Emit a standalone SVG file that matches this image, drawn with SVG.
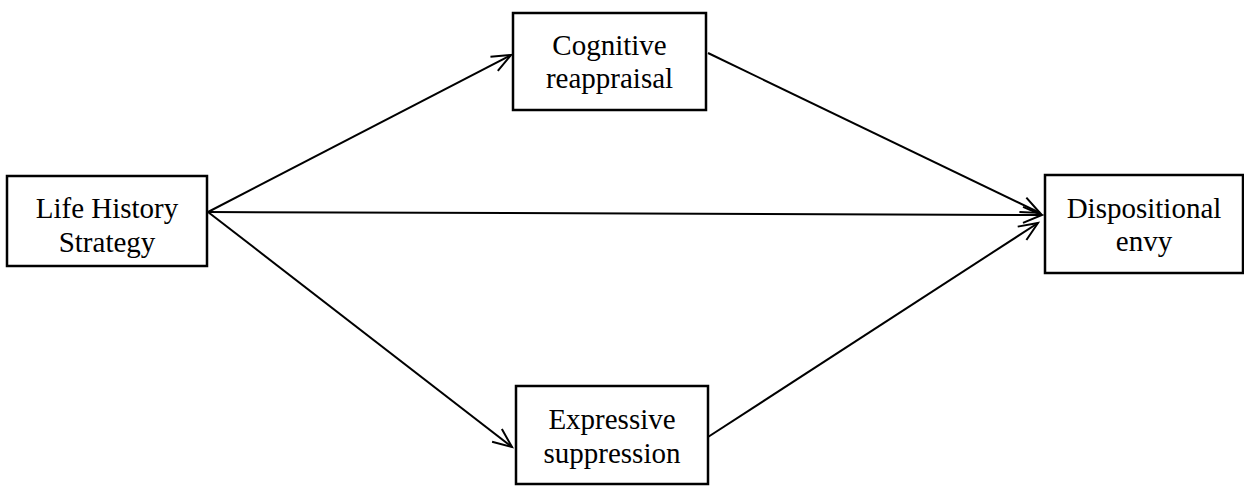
<svg xmlns="http://www.w3.org/2000/svg" width="1244" height="486" viewBox="0 0 1244 486">
<style>
.box{fill:#fff;stroke:#000;stroke-width:2.5}
.lbl{font-family:"Liberation Serif","Times New Roman",serif;font-size:29px;fill:#000;text-anchor:middle}
.edge{fill:none;stroke:#000;stroke-width:2;marker-end:url(#arr)}
</style>
<defs>
<marker id="arr" markerUnits="userSpaceOnUse" markerWidth="24" markerHeight="20" refX="19" refY="8" orient="auto" viewBox="0 0 24 20" overflow="visible">
<path d="M0,0 L19,8 L0,16" fill="none" stroke="#000" stroke-width="2"/>
</marker>
</defs>
<rect width="1244" height="486" fill="#fff"/>
<g id="connectors">
<line class="edge" x1="208" y1="212" x2="511" y2="55"/>
<line class="edge" x1="208" y1="212" x2="1042" y2="215"/>
<line class="edge" x1="208" y1="212" x2="512" y2="447"/>
<line class="edge" x1="708" y1="53" x2="1040" y2="213"/>
<line class="edge" x1="708" y1="437" x2="1038" y2="223"/>
</g>
<g id="lhs">
<rect class="box" x="7" y="176" width="200" height="90"/>
<text class="lbl" x="107" y="218">Life History</text>
<text class="lbl" x="107" y="252">Strategy</text>
</g>
<g id="cr">
<rect class="box" x="513" y="13" width="193" height="97"/>
<text class="lbl" x="609.5" y="55">Cognitive</text>
<text class="lbl" x="609.5" y="88">reappraisal</text>
</g>
<g id="es">
<rect class="box" x="516" y="386" width="192" height="98"/>
<text class="lbl" x="612" y="429">Expressive</text>
<text class="lbl" x="612" y="463">suppression</text>
</g>
<g id="de">
<rect class="box" x="1045" y="175" width="198" height="98"/>
<text class="lbl" x="1144" y="218">Dispositional</text>
<text class="lbl" x="1144" y="251">envy</text>
</g>
</svg>
